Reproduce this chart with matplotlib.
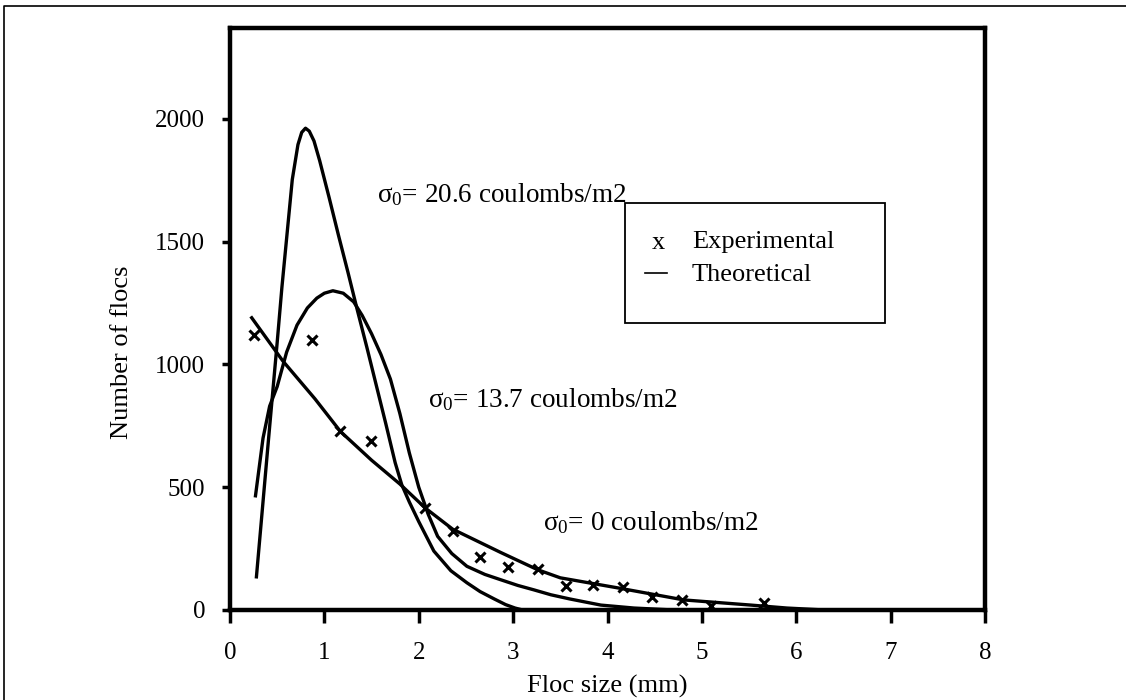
import matplotlib.pyplot as plt
from matplotlib.lines import Line2D
from matplotlib.patches import Rectangle

plt.rcParams['font.family'] = ['Liberation Serif', 'DejaVu Serif']
plt.rcParams['mathtext.fontset'] = 'custom'
plt.rcParams['mathtext.rm'] = 'Liberation Serif'
plt.rcParams['mathtext.it'] = 'Liberation Serif:italic'

# theoretical curves (floc size mm, number of flocs)
x_206 = [0.28, 0.40, 0.50, 0.55, 0.66, 0.72, 0.76, 0.80, 0.84, 0.89, 0.95, 1.05, 1.15,
         1.25, 1.35, 1.45, 1.55, 1.65, 1.75, 1.82, 1.90, 2.00, 2.16, 2.34, 2.51, 2.65,
         2.80, 2.92, 3.02, 3.10]
y_206 = [135, 660, 1090, 1314, 1753, 1895, 1945, 1962, 1950, 1910, 1830, 1680, 1525,
         1375, 1220, 1070, 915, 760, 600, 510, 440, 360, 240, 160, 111, 75, 45, 22, 8, 0]

x_137 = [0.27, 0.35, 0.42, 0.50, 0.60, 0.71, 0.82, 0.92, 1.00, 1.09, 1.20, 1.31, 1.40,
         1.50, 1.60, 1.70, 1.80, 1.90, 2.00, 2.10, 2.20, 2.35, 2.51, 2.70, 2.87, 3.05,
         3.22, 3.40, 3.60, 3.93, 4.28, 4.70]
y_137 = [465, 700, 830, 910, 1050, 1160, 1230, 1270, 1290, 1300, 1290, 1255, 1200,
         1125, 1040, 940, 800, 640, 500, 390, 300, 230, 178, 145, 123, 100, 82, 62, 45,
         20, 8, 0]

x_0 = [0.23, 0.56, 0.90, 1.17, 1.50, 1.80, 2.07, 2.36, 2.87, 3.26, 3.50, 4.11, 4.81,
       5.52, 5.90, 6.30]
y_0 = [1190, 1014, 860, 727, 610, 513, 415, 329, 234, 164, 131, 90, 41, 20, 8, 0]

# experimental points
x_exp = [0.25, 0.87, 1.17, 1.49, 2.07, 2.36, 2.65, 2.95, 3.26, 3.56, 3.85, 4.16, 4.47,
         4.79, 5.10, 5.66]
y_exp = [1120, 1100, 727, 690, 415, 322, 214, 176, 168, 96, 103, 93, 52, 41, 15, 28]

x_ticks = [0, 1, 2, 3, 4, 5, 6, 7, 8]
y_ticks = [0, 500, 1000, 1500, 2000]

labels = [
    (1.56, 1690, "σ$_0$= 20.6 coulombs/m2"),
    (2.10, 855, "σ$_0$= 13.7 coulombs/m2"),
    (3.32, 354, "σ$_0$= 0 coulombs/m2"),
]

fig = plt.figure(figsize=(11.26, 7), dpi=100)
ax = fig.add_axes([230 / 1126, 90 / 700, 755 / 1126, 582 / 700])

for xs, ys in [(x_206, y_206), (x_137, y_137), (x_0, y_0)]:
    ax.plot(xs, ys, color='black', lw=2.4, solid_joinstyle='round')
ax.plot(x_exp, y_exp, linestyle='none', marker='x', color='black', ms=6.5, mew=2.2)

ax.set_xlim(0, 8)
ax.set_ylim(0, 2370)
ax.set_xticks(x_ticks)
ax.set_yticks(y_ticks)
ax.tick_params(axis='x', direction='out', length=9, width=2.5, pad=14, labelsize=18)
ax.tick_params(axis='y', direction='out', length=6, width=2.5, pad=12, labelsize=18)
for s in ax.spines.values():
    s.set_linewidth(3.2)

ax.set_xlabel("Floc size (mm)", fontsize=19, labelpad=8)
ax.set_ylabel("Number of flocs", fontsize=19)
ax.yaxis.set_label_coords(-0.128, 0.443)

for lx, ly, txt in labels:
    ax.text(lx, ly, txt, fontsize=19.5, ha='left', va='center')

# legend box drawn in figure pixels
W, H = 1126, 700
fig.patches.append(Rectangle((625 / W, 1 - 323 / H), 260 / W, 120 / H,
                             transform=fig.transFigure, fill=False,
                             edgecolor='black', lw=1.3))
fig.text(658 / W, 1 - 243 / H, "x", fontsize=19, ha='center', va='center')
fig.text(692 / W, 1 - 242 / H, "Experimental", fontsize=19, ha='left', va='center')
fig.lines.append(Line2D([645 / W, 667 / W], [1 - 273 / H, 1 - 273 / H],
                        transform=fig.transFigure, color='black', lw=1.2))
fig.text(692 / W, 1 - 275 / H, "Theoretical", fontsize=19, ha='left', va='center')

# outer frame (left and top edges visible)
fig.lines.append(Line2D([4 / W, 4 / W, 1.0], [0, 1 - 6 / H, 1 - 6 / H],
                        transform=fig.transFigure, color='black', lw=1.2))

fig.savefig("out.png", dpi=100)
